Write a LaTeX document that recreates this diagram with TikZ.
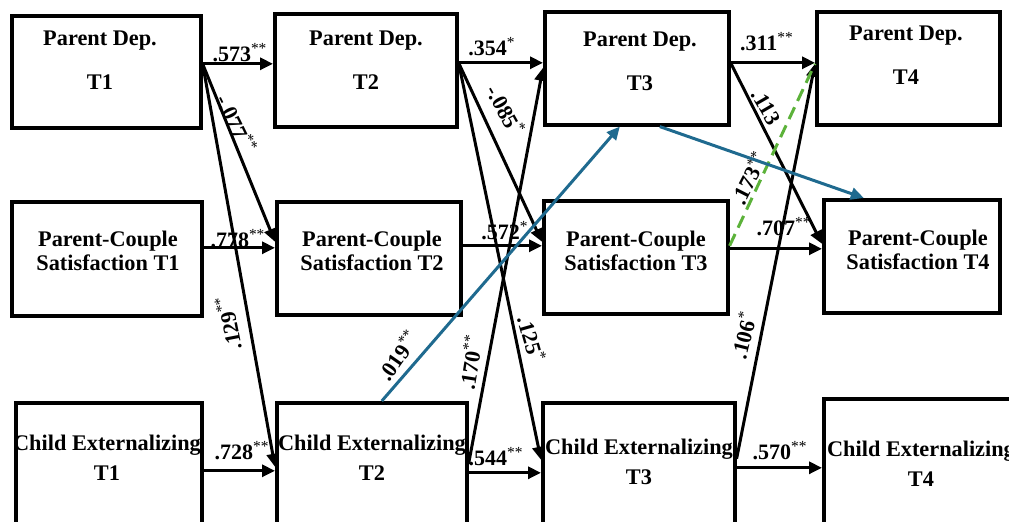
\documentclass[tikz,border=0pt]{standalone}
\usepackage{fontspec}
\setmainfont{Liberation Serif}
\usetikzlibrary{arrows.meta}

\definecolor{pathblue}{RGB}{31,106,143}
\definecolor{pathgreen}{RGB}{92,178,58}

\tikzset{
  box/.style={draw, line width=1.8pt, anchor=north west, inner sep=0pt},
  txt/.style={font=\bfseries\fontsize{11.15}{13.4}\selectfont, align=center, inner sep=0pt},
  coef/.style={font=\bfseries\fontsize{11}{13}\selectfont, inner sep=0pt},
  arr/.style={line width=1.5pt, -{Triangle[length=6.5pt,width=6pt]}},
  bluearr/.style={arr, pathblue},
  greendash/.style={line width=1.5pt, pathgreen, dash pattern=on 6.5pt off 3.5pt}
}

\begin{document}
\begin{tikzpicture}[x=0.5pt,y=-0.5pt]
  \useasboundingbox (0,0) rectangle (1009,522);
  \clip (0,0) rectangle (1009,522);

  % boxes, one row per construct
  \node[box, minimum width=94.5pt, minimum height=56pt] (pd1) at (10,14) {};
  \node[box, minimum width=91pt, minimum height=56.5pt] (pd2) at (273,12) {};
  \node[box, minimum width=92pt, minimum height=56.5pt] (pd3) at (543,10) {};
  \node[box, minimum width=91.5pt, minimum height=56.5pt] (pd4) at (815,10) {};

  \node[box, minimum width=95pt, minimum height=57pt] (pcs1) at (10,200) {};
  \node[box, minimum width=92pt, minimum height=56.5pt] (pcs2) at (275,200) {};
  \node[box, minimum width=92pt, minimum height=56.5pt] (pcs3) at (542,199) {};
  \node[box, minimum width=88pt, minimum height=56.5pt] (pcs4) at (822,198) {};

  \node[box, minimum width=93pt, minimum height=72pt] (ce1) at (14,401) {};
  \node[box, minimum width=95pt, minimum height=72pt] (ce2) at (275,401) {};
  \node[box, minimum width=96pt, minimum height=72pt] (ce3) at (541,401) {};
  \node[box, minimum width=100pt, minimum height=74pt] (ce4) at (822,397) {};

  % box texts
  \node[txt] (pd1t) at (100,60) {Parent Dep.\\[8.6pt]T1};
  \node[txt] (pd2t) at (366,60) {Parent Dep.\\[8.6pt]T2};
  \node[txt] (pd3t) at (640,61.5) {Parent Dep.\\[8.6pt]T3};
  \node[txt] (pd4t) at (906,55) {Parent Dep.\\[8.6pt]T4};

  \node[txt] (pcs1t) at (108,251) {Parent-Couple\\[-1.4pt]Satisfaction T1};
  \node[txt] (pcs2t) at (372,251) {Parent-Couple\\[-1.4pt]Satisfaction T2};
  \node[txt] (pcs3t) at (636,250.5) {Parent-Couple\\[-1.4pt]Satisfaction T3};
  \node[txt] (pcs4t) at (918,249.5) {Parent-Couple\\[-1.4pt]Satisfaction T4};

  \node[txt] (ce1t) at (107,458) {Child Externalizing\\[1.6pt]T1};
  \node[txt] (ce2t) at (372,457.5) {Child Externalizing\\[1.6pt]T2};
  \node[txt] (ce3t) at (639,461.5) {Child Externalizing\\[1.6pt]T3};
  \node[txt] (ce4t) at (921,464) {Child Externalizing\\[1.6pt]T4};

  % stability paths
  \draw[arr] ([yshift=4pt]pd1.east) -- ([yshift=3.25pt]pd2.west);
  \draw[arr] ([yshift=3.75pt]pd2.east) -- ([yshift=2.75pt]pd3.west);
  \draw[arr] ([yshift=2.75pt]pd3.east) -- ([yshift=2.75pt]pd4.west);
  \draw[arr] ([yshift=5.5pt]pcs1.east) -- ([yshift=5.25pt]pcs2.west);
  \draw[arr] ([yshift=6.25pt]pcs2.east) -- ([yshift=5.75pt]pcs3.west);
  \draw[arr] ([yshift=4.25pt]pcs3.east) -- ([yshift=3.75pt]pcs4.west);
  \draw[arr] ([yshift=2pt]ce1.east) -- ([yshift=2pt]ce2.west);
  \draw[arr] ([yshift=1pt]ce2.east) -- ([yshift=1pt]ce3.west);
  \draw[arr] ([yshift=3.5pt]ce3.east) -- ([yshift=2.5pt]ce4.west);

  % cross-lagged paths
  \draw[arr] ([yshift=4pt]pd1.east) -- ([yshift=8.25pt]pcs2.west);
  \draw[arr] ([yshift=4pt]pd1.east) -- ([yshift=4pt]ce2.west);
  \draw[arr] ([yshift=3.75pt]pd2.east) -- ([yshift=7.75pt]pcs3.west);
  \draw[arr] ([yshift=3.75pt]pd2.east) -- ([yshift=7.5pt]ce3.west);
  \draw[arr] ([yshift=5.5pt]ce2.east) -- ([yshift=0.25pt]pd3.west);
  \draw[arr] ([yshift=8pt]ce3.east) -- ([yshift=2.25pt]pd4.west);
  \draw[arr] ([yshift=2.75pt]pd3.east) -- ([yshift=6.25pt]pcs4.west);

  % coefficients
  \node[coef] (c1) at (240,53) {.573\textsuperscript{\mdseries**}};
  \node[coef] (c2) at (492,47) {.354\textsuperscript{\mdseries*}};
  \node[coef] (c3) at (767,42) {.311\textsuperscript{\mdseries**}};
  \node[coef] (c4) at (238,239) {.778\textsuperscript{\mdseries**}};
  \node[coef] (c5) at (505,231) {.572\textsuperscript{\mdseries*}};
  \node[coef] (c6) at (784,227) {.707\textsuperscript{\mdseries**}};
  \node[coef] (c7) at (242,451) {.728\textsuperscript{\mdseries**}};
  \node[coef] (c8) at (496,457) {.544\textsuperscript{\mdseries**}};
  \node[coef] (c9) at (780,451) {.570\textsuperscript{\mdseries**}};

  \node[coef, rotate=-64] (c10) at (237,124) {-.077\textsuperscript{\mdseries**}};
  \node[coef, rotate=101] (c11) at (228,323) {.129\textsuperscript{\mdseries**}};
  \node[coef, rotate=-61] (c12) at (506,110) {-.085\textsuperscript{\mdseries*}};
  \node[coef, rotate=-74] (c13) at (532,339) {.125\textsuperscript{\mdseries*}};
  \node[coef, rotate=81] (c14) at (470,362) {.170\textsuperscript{\mdseries**}};
  \node[coef, rotate=55] (c15) at (398,355) {.019\textsuperscript{\mdseries**}};
  \node[coef, rotate=76] (c16) at (743,335) {.106\textsuperscript{\mdseries*}};
  \node[coef, rotate=-60] (c17) at (766,107) {.113};
  \node[coef, rotate=63] (c18) at (749,178) {.173\textsuperscript{\mdseries**}};

  % highlighted paths
  \draw[greendash] ([yshift=5.75pt]pcs3.east) -- ([yshift=2.25pt]pd4.west);
  \draw[bluearr] ([xshift=5pt]ce2.north) -- ([xshift=-8.5pt]pd3.south);
  \draw[bluearr] ([xshift=11.5pt]pd3.south) -- ([xshift=-24pt]pcs4.north);
\end{tikzpicture}
\end{document}
